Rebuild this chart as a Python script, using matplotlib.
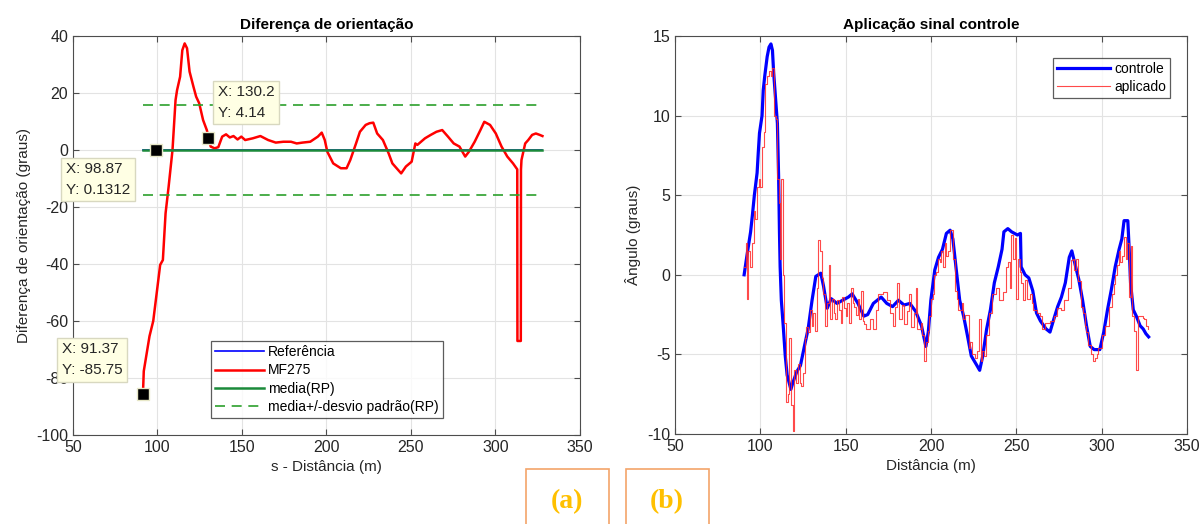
import matplotlib
matplotlib.use("Agg")
import matplotlib.pyplot as plt
from matplotlib.patches import Rectangle
import numpy as np

# ---- left chart: Diferenca de orientacao ----
mf_x = [91.4, 91.9, 95.3, 97.5, 99.8, 101.6, 103.2, 104.8, 106.6, 108.9, 110.7, 111.6,
        113.4, 114.7, 116.1, 117.5, 119.0, 121.3, 122.9, 124.7, 127.0, 129.2, 130.4,
        131.5, 133.8, 136.0, 138.3, 140.6, 142.8, 145.0, 147.4, 149.6, 151.9, 156.4,
        160.9, 165.5, 170.0, 174.5, 179.0, 182.4, 185.8, 190.4, 194.9, 197.2, 199.0,
        200.5, 204.0, 208.5, 211.9, 214.1, 217.5, 219.8, 223.2, 225.5, 227.7, 230.0,
        233.4, 236.8, 239.0, 242.4, 244.2, 247.0, 250.4, 252.6, 253.8, 258.3, 261.7,
        265.1, 268.5, 271.9, 275.3, 278.7, 282.1, 284.3, 287.7, 291.1, 293.4, 296.8,
        300.2, 303.6, 307.0, 310.4, 312.9, 313.0, 315.0, 315.1, 315.4, 317.6, 319.4,
        321.7, 323.9, 326.2, 327.8]
mf_y = [-85.75, -77.6, -65.3, -60.0, -49.0, -40.3, -38.6, -22.2, -12.9, 0.0, 17.5, 21.0,
        25.7, 35.0, 37.4, 35.7, 27.5, 22.2, 18.7, 16.4, 10.5, 7.0, 4.14,
        1.2, 0.6, 1.0, 4.7, 5.5, 4.4, 4.9, 3.7, 4.7, 3.5, 4.1,
        4.9, 3.5, 2.6, 2.9, 2.9, 2.3, 2.6, 2.9, 4.7, 6.1, 3.5,
        -0.6, -4.7, -6.4, -6.4, -3.5, 2.3, 6.4, 8.8, 9.4, 9.6, 5.8,
        3.5, -1.2, -4.7, -7.0, -8.2, -5.8, -4.1, 2.3, 1.8, 4.1, 5.3,
        6.4, 7.0, 4.7, 2.3, 1.2, -2.3, -0.6, 2.9, 7.0, 9.9, 8.8,
        5.8, 1.2, -2.3, -4.7, -6.8, -67.0, -67.0, -6.8, -3.5, 2.3, 3.5,
        5.3, 5.8, 5.3, 4.9]
ref_x = [91.4, 327.8]
ref_y = [0.0, 0.0]
media = 0.1312
desvio = 15.8
tips_x = [91.37, 98.87, 130.2]
tips_y = [-85.75, 0.1312, 4.14]
tip_labels = ["X: 91.37\nY: -85.75", "X: 98.87\nY: 0.1312", "X: 130.2\nY: 4.14"]
tip_text_pos = [(43.5, -67.5), (45.8, -4.3), (135.8, 22.7)]

# ---- right chart: Aplicacao sinal controle ----
ctrl_x = [90.5, 92.0, 94.3, 95.4, 96.5, 98.1, 98.8, 99.5, 101.0, 101.7, 102.6, 104.0, 105.1,
          106.2, 107.1, 107.8, 108.9, 110.0, 110.7, 111.2, 111.6, 112.3, 113.4, 114.6, 115.7,
          117.9, 119.0, 121.3, 123.5, 125.8, 128.0, 130.3, 132.5, 135.4, 137.0, 139.2, 141.5,
          144.9, 148.2, 151.6, 153.8, 157.2, 160.6, 162.9, 166.2, 170.8, 174.1, 177.5, 180.9,
          184.2, 187.6, 191.0, 194.4, 197.0, 198.4, 199.9, 202.2, 204.4, 206.7, 209.0, 211.2,
          212.8, 214.6, 216.8, 219.1, 221.3, 223.6, 226.9, 228.5, 230.3, 232.6, 234.8, 237.1,
          239.4, 241.6, 242.7, 245.0, 247.2, 250.6, 252.4, 252.8, 255.1, 257.3, 259.6, 261.8,
          264.1, 267.4, 269.7, 271.9, 274.2, 276.4, 278.7, 281.0, 282.5, 284.3, 286.6, 288.8,
          291.1, 293.3, 295.6, 298.9, 301.2, 303.4, 305.7, 307.9, 310.2, 311.8, 313.1, 315.3,
          316.2, 316.9, 318.5, 320.3, 322.5, 324.3, 325.9, 327.5]
ctrl_y = [0.0, 1.1, 2.7, 3.8, 5.0, 6.4, 7.7, 8.9, 10.0, 11.6, 12.5, 13.7, 14.3,
          14.5, 14.1, 12.7, 11.1, 9.5, 6.2, 2.7, 0.5, -1.6, -3.2, -5.1, -6.3,
          -7.2, -6.8, -6.1, -5.7, -4.5, -3.4, -1.6, -0.1, 0.1, -0.7, -2.1, -1.5,
          -1.8, -1.6, -1.4, -1.2, -1.8, -2.6, -2.5, -1.8, -1.4, -1.8, -2.0, -1.6,
          -1.9, -1.8, -2.3, -3.2, -4.5, -3.6, -1.6, 0.3, 1.1, 1.6, 2.6, 2.8,
          2.25, 0.5, -1.6, -2.6, -3.8, -5.1, -5.7, -6.0, -5.1, -3.4, -2.2, -0.5,
          0.5, 1.6, 2.7, 2.9, 2.7, 2.5, 2.6, 0.5, 0.0, -0.2, -1.0, -2.4,
          -2.9, -3.4, -3.6, -2.8, -2.0, -1.4, -0.5, 1.1, 1.5, 0.7, -0.3, -1.6,
          -3.2, -4.5, -4.7, -4.7, -3.6, -2.2, -0.9, 0.5, 1.6, 2.25, 3.4, 3.4,
          1.4, -0.5, -2.2, -2.6, -3.2, -3.4, -3.7, -3.9]
apl_x = [90.5, 91.5, 92, 93, 94, 95, 96, 97, 98, 99, 100, 101, 102, 103, 104, 105, 106, 107,
         108, 109, 110, 111, 111.5, 112, 113, 113.5, 114, 115, 116, 117, 118, 119, 120, 121,
         122, 123, 124, 125, 126, 127, 128, 129, 130, 131, 132, 133, 134, 135, 136, 137, 138,
         139, 140, 141, 142, 143, 144, 145, 146, 147, 148, 149, 150, 151, 152, 153, 154, 155,
         156, 157, 158, 159, 160, 161, 162, 164, 166, 168, 169, 172, 174, 176, 178, 179, 180,
         181, 183, 184, 186, 187, 188, 190, 191, 192, 194, 195, 196, 197, 198, 199, 200, 201,
         202, 203, 204, 205, 206, 207, 208, 209, 210, 211, 212, 213, 214, 215, 216, 218, 219,
         220, 222, 223, 224, 226, 227, 228, 229, 230, 231, 232, 234, 236, 238, 240, 242, 244,
         245, 246, 247, 248, 249, 250, 251, 252, 253, 254, 255, 256, 258, 259, 260, 262, 264,
         265, 267, 268, 270, 272, 274, 276, 278, 280, 282, 283, 284, 285, 286, 288, 289, 290,
         291, 292, 294, 295, 296, 297, 298, 300, 302, 304, 306, 307, 308, 309, 310, 311, 312,
         313, 314, 315, 316, 317, 318, 319, 320, 321, 323, 324, 325, 326, 327]
apl_y = [0.5, 2.0, -1.5, 1.5, 0.5, 2.0, 4.0, 3.5, 5.5, 6.0, 5.5, 8.0, 9.0, 12.0, 12.5, 12.8,
         12.5, 13.0, 10.0, 9.8, 6.0, 4.5, 1.0, 6.0, 4.3, 0.0, -3.0, -8.0, -7.5, -4.0, -8.2,
         -9.8, -6.0, -6.8, -5.6, -6.8, -7.0, -6.2, -4.0, -3.3, -3.6, -2.2, -3.2, -2.4, -3.5,
         -0.8, 2.2, 1.5, -0.2, -1.2, -3.2, -1.8, 0.6, -2.8, -1.5, -2.4, -2.8, -1.6, -2.2,
         -3.0, -1.4, -2.1, -2.6, -1.8, -3.0, -0.8, -1.8, -2.0, -2.5, -1.5, -2.8, -1.0, -2.9,
         -3.1, -3.4, -2.8, -3.4, -2.2, -1.2, -1.1, -1.6, -2.4, -3.2, -2.0, -0.5, -2.8, -1.9,
         -3.1, -2.3, -1.2, -3.3, -2.4, -0.8, -3.4, -3.0, -3.8, -5.4, -4.2, -3.5, -2.6, -1.5,
         -1.2, 0.0, 0.2, 1.0, 0.8, 1.5, 0.5, 2.0, 1.2, 1.5, 2.8, 2.8, 1.0, -1.0, -1.5, -2.2,
         -1.8, -2.8, -2.5, -4.6, -4.2, -5.0, -5.2, -4.8, -2.8, -5.4, -4.8, -5.1, -3.8, -2.4,
         -1.2, -0.8, -1.6, -1.1, 0.5, 0.8, -0.8, 2.5, 1.0, 2.3, -1.5, 1.0, 0.2, -0.5, -1.6,
         -0.3, -1.5, -1.2, -1.8, -2.2, -2.4, -2.6, -3.4, -3.0, -3.0, -2.9, -2.6, -2.1, -2.2,
         -1.6, -0.8, 0.9, 1.0, 0.3, 1.0, -0.4, -2.0, -2.4, -3.2, -3.6, -4.4, -5.0, -5.4, -5.2,
         -5.0, -4.6, -3.8, -3.2, -2.0, -1.2, -0.6, 0.0, 0.6, 1.5, 0.8, 1.2, 2.4, 1.0, 2.0,
         -1.4, 1.8, -2.6, -3.5, -6.0, -2.6, -2.6, -2.7, -2.8, -3.2, -3.4]

plt.rcParams['font.family'] = ['Liberation Sans', 'DejaVu Sans']
plt.rcParams['axes.unicode_minus'] = False
txt = '#262626'
edge = '#4d4d4d'

fig = plt.figure(figsize=(12, 5.24), dpi=100)
ax1 = fig.add_axes([0.0608, 0.1698, 0.4225, 0.7615])
ax2 = fig.add_axes([0.5625, 0.1718, 0.4267, 0.7595])

# left plot
ax1.plot(ref_x, ref_y, color='blue', lw=1.2, label='Referência')
ax1.plot(mf_x, mf_y, color='red', lw=1.8, label='MF275')
ax1.plot(ref_x, [media, media], color='#1b8a3a', lw=1.8, label='media(RP)')
ax1.plot(ref_x, [media + desvio] * 2, color='#2ca02c', lw=1.2, ls=(0, (6, 4)),
         label='media+/-desvio padrão(RP)')
ax1.plot(ref_x, [media - desvio] * 2, color='#2ca02c', lw=1.2, ls=(0, (6, 4)))
ax1.plot(tips_x, tips_y, ls='none', marker='s', ms=8, mfc='black', mec='#e8e8c8', zorder=5)
for lab, (tx, ty) in zip(tip_labels, tip_text_pos):
    ax1.text(tx, ty, lab, ha='left', va='top', fontsize=11, color=txt, linespacing=1.6,
             clip_on=False, zorder=6,
             bbox=dict(boxstyle='square,pad=0.3', fc='#ffffe4', ec='#d8d8c0', lw=1))
ax1.set_xlim(50, 350)
ax1.set_ylim(-100, 40)
ax1.set_xticks(np.arange(50, 351, 50))
ax1.set_yticks(np.arange(-100, 41, 20))
ax1.set_title('Diferença de orientação', fontsize=11, fontweight='bold', color='black', pad=5)
ax1.set_xlabel('s - Distância (m)', fontsize=11, color=txt)
ax1.set_ylabel('Diferença de orientação (graus)', fontsize=11, color=txt)
leg1 = ax1.legend(loc='lower left', bbox_to_anchor=(0.272, 0.043), fontsize=10,
                  frameon=True, fancybox=False, handlelength=3.5, borderpad=0.3,
                  labelspacing=0.3, handletextpad=0.3, borderaxespad=0)
leg1.get_frame().set_edgecolor('#333333')
leg1.get_frame().set_linewidth(0.9)

# right plot
ax2.plot(ctrl_x, ctrl_y, color='blue', lw=2.3, label='controle', zorder=3)
ax2.plot(apl_x, apl_y, color='#ff2a2a', lw=0.8, alpha=0.85, drawstyle='steps-post',
         label='aplicado', zorder=4)
ax2.set_xlim(50, 350)
ax2.set_ylim(-10, 15)
ax2.set_xticks(np.arange(50, 351, 50))
ax2.set_yticks(np.arange(-10, 16, 5))
ax2.set_title('Aplicação sinal controle', fontsize=11, fontweight='bold', color='black', pad=5)
ax2.set_xlabel('Distância (m)', fontsize=11, color=txt)
ax2.set_ylabel('Ângulo (graus)', fontsize=11, color=txt)
leg2 = ax2.legend(loc='upper right', bbox_to_anchor=(0.967, 0.945), fontsize=10,
                  frameon=True, fancybox=False, handlelength=3.8, borderpad=0.3,
                  labelspacing=0.3, handletextpad=0.3, borderaxespad=0)
leg2.get_frame().set_edgecolor('#333333')
leg2.get_frame().set_linewidth(0.9)

for ax in (ax1, ax2):
    ax.grid(True, color='#e3e3e3', lw=0.8)
    ax.set_axisbelow(True)
    ax.tick_params(direction='in', length=4, width=0.8, colors=edge, labelcolor=txt,
                   labelsize=11.5, top=True, right=True)
    for s in ax.spines.values():
        s.set_color(edge)
        s.set_linewidth(0.8)

# (a) / (b) boxes under the charts
for x0, lab in [(526, '(a)'), (626, '(b)')]:
    fig.patches.append(Rectangle((x0 / 1200, -0.01), 83 / 1200, (524 - 469) / 524 + 0.01,
                                 transform=fig.transFigure, fill=False,
                                 ec='#f4a46a', lw=1.2))
    fig.text((x0 + 41) / 1200, 0.043, lab, ha='center', va='center', fontsize=20,
             fontweight='bold', color='#ffc000', family='Liberation Serif')

fig.savefig('out.png', dpi=100)
